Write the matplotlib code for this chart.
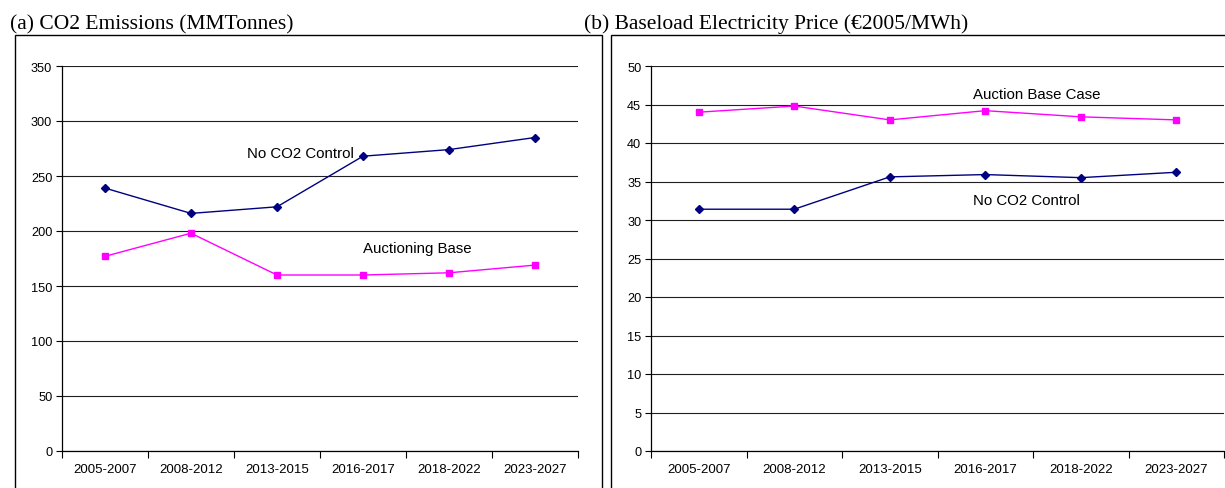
import matplotlib
matplotlib.use("Agg")
import matplotlib.pyplot as plt
from matplotlib.patches import Rectangle
from matplotlib.transforms import Bbox, TransformedBbox

periods = ["2005-2007", "2008-2012", "2013-2015", "2016-2017", "2018-2022", "2023-2027"]

# (a) CO2 emissions, MMTonnes
co2_no_control = [239, 216, 222, 268, 274, 285]
co2_auction = [177, 198, 160, 160, 162, 169]

# (b) Baseload electricity price, EUR2005/MWh
price_auction = [44.0, 44.8, 43.0, 44.2, 43.4, 43.0]
price_no_control = [31.4, 31.4, 35.6, 35.9, 35.5, 36.2]

NAVY = "#000080"
MAGENTA = "#FF00FF"
W, H = 1225, 489
LABEL_FS = 10.8

fig = plt.figure(figsize=(W / 100, H / 100), dpi=100)
plt.rcParams["font.family"] = ["Liberation Sans", "DejaVu Sans"]


def px(x0, y0, x1, y1):
    """Pixel box (top-left origin) -> figure fraction rect."""
    return [x0 / W, (H - y1) / H, (x1 - x0) / W, (y1 - y0) / H]


# panel frames
fig.add_artist(Rectangle((15 / W, -0.01), (602 - 15) / W, (H - 36) / H + 0.01,
                         transform=fig.transFigure, fill=False, lw=1.0, ec="black"))
fig.add_artist(Rectangle((611 / W, -0.01), 1 - 611 / W + 0.01, (H - 36) / H + 0.01,
                         transform=fig.transFigure, fill=False, lw=1.0, ec="black"))

fig.text(10 / W, (H - 29) / H, "(a) CO2 Emissions (MMTonnes)", family="Liberation Serif",
         fontsize=15.5, va="baseline", ha="left")
fig.text(584 / W, (H - 29) / H, "(b) Baseload Electricity Price (\u20ac2005/MWh)",
         family="Liberation Serif", fontsize=15.5, va="baseline", ha="left")


def style_axes(ax, ymax, ystep):
    x = list(range(len(periods)))
    ax.set_xlim(-0.5, len(periods) - 0.5)
    ax.set_ylim(0, ymax)
    ax.set_yticks(range(0, ymax + 1, ystep))
    ax.set_xticks(x)
    ax.set_xticklabels(periods)
    ax.set_xticks([i - 0.5 for i in range(len(periods) + 1)], minor=True)
    ax.tick_params(axis="x", which="major", length=0, pad=9, labelsize=9.5)
    ax.tick_params(axis="x", which="minor", length=5, direction="out", width=0.8)
    ax.tick_params(axis="y", length=4, direction="out", width=0.8, labelsize=9.2, pad=3)
    for s in ("top", "right"):
        ax.spines[s].set_visible(False)
    for s in ("left", "bottom"):
        ax.spines[s].set_linewidth(0.9)
    ax.yaxis.grid(True, color="#202020", lw=0.8)
    ax.set_axisbelow(True)
    ax.set_facecolor("none")
    return x


ax1 = fig.add_axes(px(62, 67, 578, 452))
x = style_axes(ax1, 350, 50)
ax1.plot(x, co2_no_control, color=NAVY, lw=1.0, marker="D", ms=4, mfc=NAVY, mec=NAVY)
ax1.plot(x, co2_auction, color=MAGENTA, lw=1.0, marker="s", ms=4.5, mfc=MAGENTA, mec=MAGENTA)
ax1.text(1.65, 267, "No CO2 Control", fontsize=LABEL_FS, ha="left", va="baseline")
ax1.text(3.0, 181, "Auctioning Base", fontsize=LABEL_FS, ha="left", va="baseline")
# second line of the label is cut off by the text box, only its top edge shows
case_txt = ax1.text(3.0, 164.5, "Case", fontsize=LABEL_FS, ha="left", va="baseline", clip_on=True)
case_txt.set_clip_box(TransformedBbox(Bbox.from_extents(0, (H - 262) / H, 1, (H - 259.5) / H),
                                      fig.transFigure))

ax2 = fig.add_axes(px(651, 67, 1224, 452))
x = style_axes(ax2, 50, 5)
ax2.plot(x, price_auction, color=MAGENTA, lw=1.0, marker="s", ms=4.5, mfc=MAGENTA, mec=MAGENTA)
ax2.plot(x, price_no_control, color=NAVY, lw=1.0, marker="D", ms=4, mfc=NAVY, mec=NAVY)
ax2.text(2.87, 45.8, "Auction Base Case", fontsize=LABEL_FS, ha="left", va="baseline")
ax2.text(2.87, 32.1, "No CO2 Control", fontsize=LABEL_FS, ha="left", va="baseline")

fig.savefig("out.png", dpi=100)
